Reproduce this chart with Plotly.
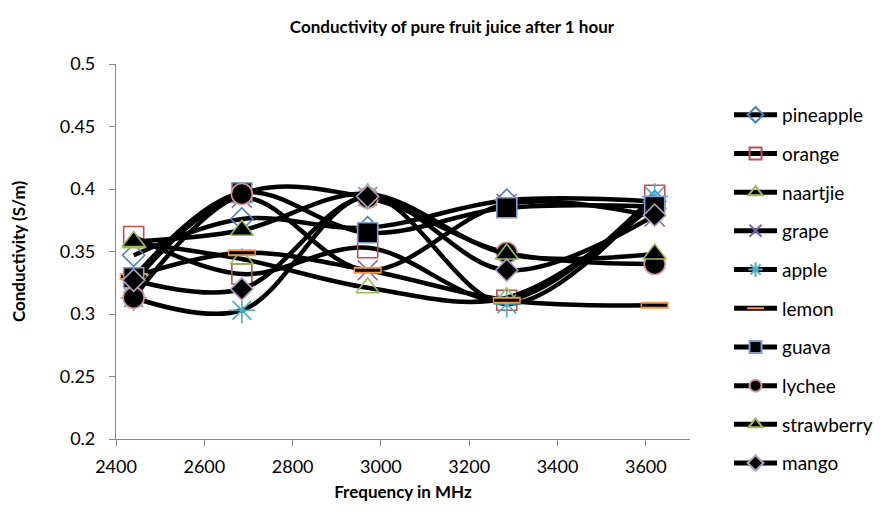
import plotly.graph_objects as go

frequency = [2440, 2685, 2970, 3285, 3620]

pineapple = [0.347, 0.376, 0.369, 0.391, 0.390]
orange = [0.362, 0.332, 0.353, 0.311, 0.395]
naartjie = [0.357, 0.344, 0.321, 0.313, 0.388]
grape = [0.325, 0.393, 0.335, 0.388, 0.378]
apple = [0.313, 0.303, 0.394, 0.308, 0.394]
lemon = [0.330, 0.349, 0.335, 0.311, 0.307]
guava = [0.329, 0.397, 0.365, 0.385, 0.386]
lychee = [0.313, 0.396, 0.393, 0.349, 0.340]
strawberry = [0.358, 0.367, 0.396, 0.348, 0.348]
mango = [0.327, 0.320, 0.394, 0.335, 0.379]

series = [
    ("pineapple", pineapple, dict(symbol="diamond-open", size=17, color="#4F81BD", line=dict(width=1.6, color="#4F81BD"))),
    ("orange", orange, dict(symbol="square-open", size=20, color="#C0504D", line=dict(width=1.6, color="#C0504D"))),
    ("naartjie", naartjie, dict(symbol="triangle-up-open", size=20, color="#9BBB59", line=dict(width=1.6, color="#9BBB59"))),
    ("grape", grape, dict(symbol="x-thin-open", size=20, color="#8064A2", line=dict(width=1.6, color="#8064A2"))),
    ("apple", apple, dict(symbol="asterisk-open", size=22, color="#4BACC6", line=dict(width=1.6, color="#4BACC6"))),
    ("lemon", lemon, dict(symbol="line-ew-open", size=20, color="#F79646", line=dict(width=7, color="#F79646"))),
    ("guava", guava, dict(symbol="square", size=20, color="black", line=dict(width=1.6, color="#7F9FCF"))),
    ("lychee", lychee, dict(symbol="circle", size=21, color="black", line=dict(width=1.6, color="#D99694"))),
    ("strawberry", strawberry, dict(symbol="triangle-up", size=20, color="black", line=dict(width=1.6, color="#9BBB59"))),
    ("mango", mango, dict(symbol="diamond", size=17, color="black", line=dict(width=1.6, color="#B3A2C7"))),
]

fig = go.Figure()
for name, vals, marker in series:
    fig.add_trace(go.Scatter(
        x=frequency, y=vals, name=name, legendgroup=name,
        mode="lines+markers",
        line=dict(color="black", width=4.5, shape="spline", smoothing=1.0),
        marker=marker,
    ))
    if name == "lemon":
        fig.add_trace(go.Scatter(
            x=frequency, y=vals, name=name, legendgroup=name, showlegend=False,
            mode="markers",
            marker=dict(symbol="line-ew-open", size=18, color="black", line=dict(width=3, color="black")),
            hoverinfo="skip",
        ))

font_family = "Lato, Open Sans, sans-serif"
axis_color = "#868686"

fig.update_layout(
    width=888, height=516,
    paper_bgcolor="white", plot_bgcolor="white",
    margin=dict(l=108, r=206, t=56, b=85),
    font=dict(family=font_family, color="black", size=18),
    title=dict(
        text="<b>Conductivity of pure fruit juice after 1 hour</b>",
        x=0.5, xref="container", y=0.963, yanchor="middle",
        font=dict(size=17, family=font_family, color="black"),
    ),
    xaxis=dict(
        range=[2400, 3700], tick0=2400, dtick=200,
        showgrid=False, zeroline=False, automargin=False,
        showline=True, linecolor=axis_color, linewidth=1.2,
        ticks="outside", ticklen=6, tickcolor=axis_color,
        ticklabelstandoff=5,
        tickfont=dict(size=18, family=font_family, color="black"),
        title=dict(text="<b>Frequency in MHz</b>", font=dict(size=17, family=font_family), standoff=10),
    ),
    yaxis=dict(
        range=[0.2, 0.5], tick0=0.2, dtick=0.05,
        showgrid=False, zeroline=False, automargin=False,
        showline=True, linecolor=axis_color, linewidth=1.2,
        ticks="outside", ticklen=6, tickcolor=axis_color,
        ticklabelstandoff=10,
        tickfont=dict(size=18, family=font_family, color="black"),
        title=dict(text="<b>Conductivity (S/m)</b>", font=dict(size=17, family=font_family), standoff=30),
    ),
    legend=dict(
        x=1.068, xanchor="left", y=0.915, yanchor="top",
        traceorder="grouped", tracegroupgap=11,
        itemwidth=43, maxheight=1000, itemsizing="constant",
        font=dict(size=19, family=font_family, color="black"),
        bgcolor="rgba(0,0,0,0)",
    ),
    showlegend=True,
)

fig.write_html("out.html")
